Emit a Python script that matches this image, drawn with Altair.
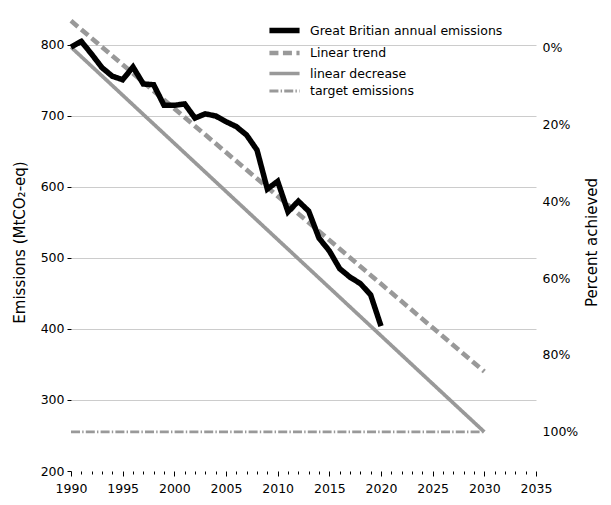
import altair as alt
import pandas as pd

# Great Britain annual greenhouse gas emissions (MtCO2-eq)
years = list(range(1990, 2021))
emissions = [797, 805, 787, 768, 756, 751, 769, 745, 744, 715, 715, 717,
             697, 703, 700, 692, 685, 673, 652, 597, 608, 565, 580, 566,
             528, 510, 485, 473, 464, 448, 404]

# Straight-line references between 1990 and 2030
ref_years = [1990, 2030]
trend_values = [834, 340]        # fitted linear trend
decrease_values = [797, 255]     # straight path from baseline to target
target_values = [255, 255]       # 2030 target level

baseline = 797
target = 255

names = ["Great Britian annual emissions", "Linear trend",
         "linear decrease", "target emissions"]

rows = [{"year": y, "value": v, "series": names[0]} for y, v in zip(years, emissions)]
rows += [{"year": y, "value": v, "series": names[1]} for y, v in zip(ref_years, trend_values)]
rows += [{"year": y, "value": v, "series": names[2]} for y, v in zip(ref_years, decrease_values)]
rows += [{"year": y, "value": v, "series": names[3]} for y, v in zip(ref_years, target_values)]
df = pd.DataFrame(rows)

y_lo, y_hi = 200, 845
FONT = "DejaVu Sans"

x_enc = alt.X(
    "year:Q",
    scale=alt.Scale(domain=[1990, 2035], nice=False, zero=False),
    axis=alt.Axis(
        title=None,
        values=list(range(1990, 2036)),
        format="d",
        labelExpr="datum.value % 5 === 0 ? datum.label : ''",
        labelOverlap=False,
        labelFlush=False,
        tickSize={"condition": {"test": "datum.value % 5 === 0", "value": 5}, "value": 3},
        domain=False,
        grid=False,
        labelPadding=6,
    ),
)
y_enc = alt.Y(
    "value:Q",
    scale=alt.Scale(domain=[y_lo, y_hi], nice=False, zero=False),
    axis=alt.Axis(
        title="Emissions (MtCO₂-eq)",
        values=[200, 300, 400, 500, 600, 700, 800],
        format="d",
        domain=False,
        tickSize=4,
        labelPadding=3,
        grid=True,
        gridColor="#cccccc",
        gridWidth=1,
        gridOpacity={"condition": {"test": "datum.value === 200", "value": 0}, "value": 1},
        titleFontSize=15,
        titleFontWeight="normal",
        titlePadding=13,
    ),
)
color_enc = alt.Color(
    "series:N",
    scale=alt.Scale(domain=names, range=["black", "#999999", "#999999", "#999999"]),
    legend=alt.Legend(
        title=None,
        orient="none",
        legendX=202,
        legendY=6,
        # a wide horizontal stroke on a compact row height
        symbolType="M-1.8,0H1.8",
        symbolSize=280,
        labelFontSize=12.5,
        labelOffset=14,
        labelLimit=400,
        rowPadding=0,
    ),
)
dash_enc = alt.StrokeDash(
    "series:N",
    scale=alt.Scale(domain=names, range=[[1, 0], [9, 4.5], [1, 0], [9, 2.2, 1.4, 2.2]]),
    legend=alt.Legend(title=None),
)
width_enc = alt.StrokeWidth(
    "series:N",
    scale=alt.Scale(domain=names, range=[5.5, 2.8, 2.6, 1.4]),
    legend=alt.Legend(title=None),
)

base = alt.Chart(df).mark_line().encode(
    x=x_enc, y=y_enc, color=color_enc, strokeDash=dash_enc, strokeWidth=width_enc
)

# emissions drawn last so it sits on top
lines = alt.layer(
    *[base.transform_filter(alt.datum.series == n) for n in [names[1], names[2], names[3], names[0]]]
)

# secondary axis: share of the reduction from baseline to target
def pct(v):
    return (baseline - v) / (baseline - target) * 100

pct_df = pd.DataFrame({"pct": [0, 100]})
pct_layer = alt.Chart(pct_df).mark_point(opacity=0).encode(
    x=alt.value(0),
    y=alt.Y(
        "pct:Q",
        scale=alt.Scale(domain=[pct(y_hi), pct(y_lo)], reverse=True, nice=False, zero=False),
        axis=alt.Axis(
            orient="right",
            title="Percent achieved",
            values=[0, 20, 40, 60, 80, 100],
            labelExpr="datum.value + '%'",
            tickSize=0,
            labelPadding=6,
            domain=False,
            grid=False,
            titleAngle=270,
            titleFontSize=15,
            titleFontWeight="normal",
            titlePadding=22,
        ),
    ),
)

chart = (
    alt.layer(lines, pct_layer)
    .resolve_scale(y="independent")
    .properties(
        width=465,
        height=458,
        autosize=alt.AutoSizeParams(type="none"),
        padding={"left": 71, "top": 13, "right": 75, "bottom": 34},
    )
    .configure_view(stroke=None)
    .configure_axis(
        labelFont=FONT, titleFont=FONT, labelFontSize=12.5, labelColor="black",
        titleColor="black", tickColor="black",
    )
    .configure_legend(labelFont=FONT, labelColor="black")
)

chart.save("out.html", embed_options={"renderer": "svg", "actions": False})
